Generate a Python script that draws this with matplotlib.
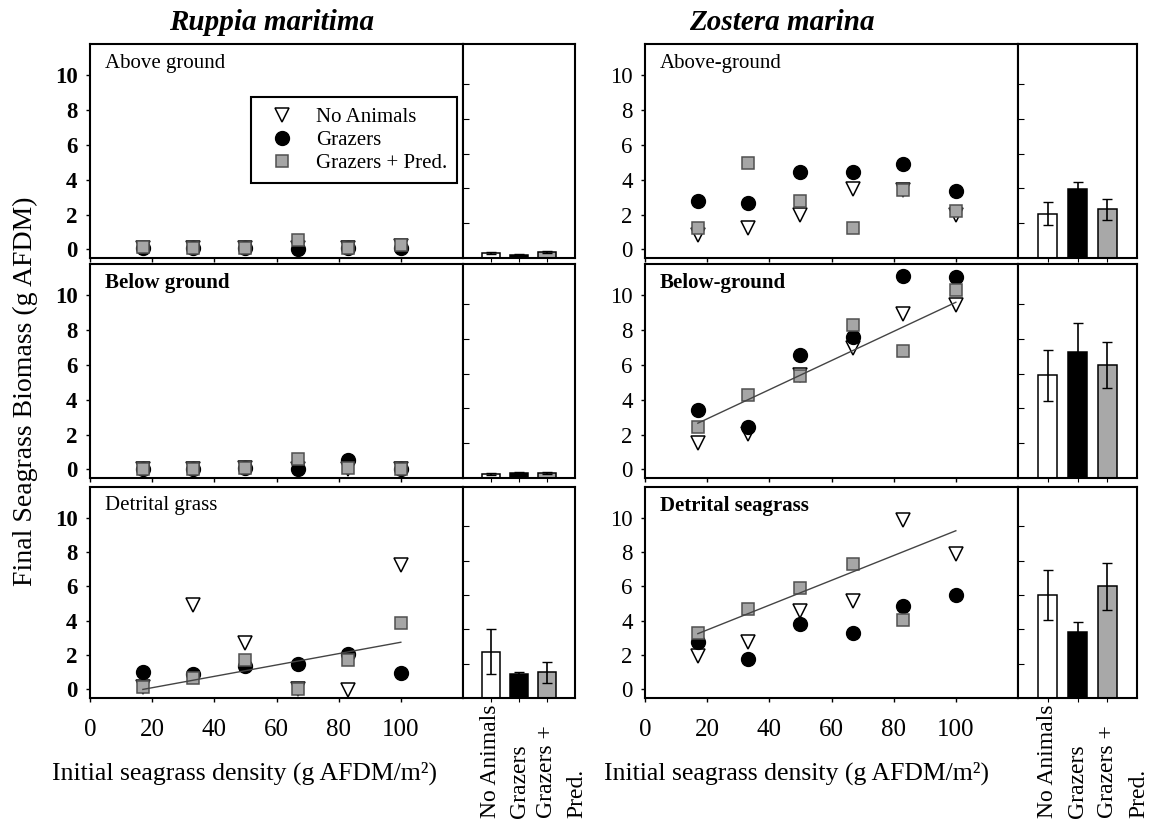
import matplotlib
matplotlib.use('Agg')
import matplotlib.pyplot as plt
import numpy as np

plt.rcParams['font.family'] = ['Liberation Serif', 'DejaVu Serif']

# initial seagrass density (g AFDM/m2)
density = [17, 33, 50, 67, 83, 100]
treatments = ['No Animals', 'Grazers', 'Grazers + Pred.']

# Ruppia maritima, final biomass
rup_above_none = [0.1, 0.05, 0.1, 0.1, 0.1, 0.2]
rup_above_graz = [0.1, 0.05, 0.1, 0.0, 0.1, 0.1]
rup_above_pred = [0.15, 0.05, 0.1, 0.55, 0.1, 0.25]
rup_above_bar = [0.3, 0.2, 0.35]
rup_above_err = [0.05, 0.05, 0.05]

rup_below_none = [0.0, 0.0, 0.05, 0.0, 0.0, 0.0]
rup_below_graz = [0.0, 0.0, 0.05, 0.0, 0.55, 0.0]
rup_below_pred = [0.0, 0.0, 0.05, 0.6, 0.05, 0.0]
rup_below_bar = [0.25, 0.3, 0.3]
rup_below_err = [0.05, 0.05, 0.05]

rup_detr_none = [0.15, 4.9, 2.7, 0.0, -0.05, 7.25]
rup_detr_graz = [1.0, 0.9, 1.35, 1.5, 2.05, 0.95]
rup_detr_pred = [0.15, 0.65, 1.7, 0.0, 1.7, 3.9]
rup_detr_fit = [0.0, 2.75]
rup_detr_bar = [2.7, 1.4, 1.5]
rup_detr_err = [1.3, 0.13, 0.6]

# Zostera marina, final biomass
zos_above_none = [0.85, 1.25, 2.0, 3.45, 3.4, 2.0]
zos_above_graz = [2.8, 2.65, 4.45, 4.45, 4.9, 3.35]
zos_above_pred = [1.25, 4.95, 2.75, 1.25, 3.4, 2.2]
zos_above_bar = [2.55, 3.95, 2.8]
zos_above_err = [0.65, 0.42, 0.6]

zos_below_none = [1.5, 2.05, 5.4, 7.0, 8.9, 9.45]
zos_below_graz = [3.4, 2.45, 6.55, 7.6, 11.1, 11.05]
zos_below_pred = [2.45, 4.25, 5.35, 8.3, 6.8, 10.3]
zos_below_fit = [2.65, 9.6]
zos_below_bar = [5.9, 7.25, 6.5]
zos_below_err = [1.45, 1.65, 1.3]

zos_detr_none = [1.95, 2.75, 4.6, 5.15, 9.85, 7.9]
zos_detr_graz = [2.75, 1.75, 3.8, 3.3, 4.85, 5.5]
zos_detr_pred = [3.3, 4.7, 5.9, 7.3, 4.05, np.nan]
zos_detr_fit = [3.25, 9.25]
zos_detr_bar = [6.0, 3.85, 6.5]
zos_detr_err = [1.45, 0.57, 1.35]

fit_x = [17, 100]

W, H = 1151, 821
rows = [(44, 258), (264, 478), (487, 698)]
cols = [((90, 463), (463, 575)), ((645, 1018), (1018, 1137))]


def rect(x0, x1, y0, y1):
    return [x0 / W, 1 - y1 / H, (x1 - x0) / W, (y1 - y0) / H]


panels = [
    [("Above ground", False, rup_above_none, rup_above_graz, rup_above_pred, None, rup_above_bar, rup_above_err),
     ("Below ground", True, rup_below_none, rup_below_graz, rup_below_pred, None, rup_below_bar, rup_below_err),
     ("Detrital grass", False, rup_detr_none, rup_detr_graz, rup_detr_pred, rup_detr_fit, rup_detr_bar, rup_detr_err)],
    [("Above-ground", False, zos_above_none, zos_above_graz, zos_above_pred, None, zos_above_bar, zos_above_err),
     ("Below-ground", True, zos_below_none, zos_below_graz, zos_below_pred, zos_below_fit, zos_below_bar, zos_below_err),
     ("Detrital seagrass", True, zos_detr_none, zos_detr_graz, zos_detr_pred, zos_detr_fit, zos_detr_bar, zos_detr_err)],
]

bar_colors = ['white', 'black', '#a8a8a8']

fig = plt.figure(figsize=(W / 100, H / 100), dpi=100)

for c, ((sx0, sx1), (bx0, bx1)) in enumerate(cols):
    for r, (y0, y1) in enumerate(rows):
        label, bold, none, graz, pred, fit, bars, errs = panels[c][r]

        ax = fig.add_axes(rect(sx0, sx1, y0, y1))
        ax.plot(density, none, 'v', ms=10, mfc='white', mec='black', mew=1.1, ls='none', label=treatments[0])
        ax.plot(density, graz, 'o', ms=10, mfc='black', mec='black', ls='none', label=treatments[1])
        ax.plot(density, pred, 's', ms=8.5, mfc='#a6a6a6', mec='#505050', mew=1.1, ls='none', label=treatments[2])
        if fit is not None:
            ax.plot(fit_x, fit, color='#444444', lw=1.0)
        ax.set_xlim(0, 120)
        ax.set_ylim(-0.5, 11.8)
        ax.set_xticks(range(0, 101, 20))
        ax.set_yticks(range(0, 11, 2))
        ax.tick_params(axis='y', direction='out', length=3, width=1, pad=6,
                       labelsize=16.5)
        ax.tick_params(axis='x', direction='out', length=3, width=1, pad=12,
                       labelsize=18)
        ax.tick_params(axis='x', labelbottom=(r == 2))
        if c == 0:
            for t in ax.get_yticklabels():
                t.set_fontweight('bold')
        for s in ax.spines.values():
            s.set_linewidth(1.5)
        ax.text(0.04, 0.91, label, transform=ax.transAxes, fontsize=15,
                fontweight='bold' if bold else 'normal', va='center', ha='left')
        if c == 0 and r == 0:
            leg = ax.legend(loc='upper right', bbox_to_anchor=(0.985, 0.75), fontsize=15,
                            frameon=True, fancybox=False, edgecolor='black', framealpha=1,
                            handletextpad=0.6, borderpad=0.5, labelspacing=0.15,
                            borderaxespad=0)
            leg.get_frame().set_linewidth(1.5)

        bx = fig.add_axes(rect(bx0, bx1, y0, y1))
        pos = [1, 2, 3]
        bx.bar(pos, bars, width=0.64, color=bar_colors, edgecolor='black', lw=1.1)
        bx.errorbar(pos, bars, yerr=errs, fmt='none', ecolor='black', elinewidth=1.2, capsize=3.5)
        bx.set_xlim(0, 4)
        bx.set_ylim(0, 12.3)
        bx.set_xticks(pos)
        bx.set_yticks(range(2, 11, 2))
        bx.tick_params(axis='y', direction='in', length=4, labelleft=False)
        bx.tick_params(axis='x', direction='out', length=3, labelbottom=False)
        for s in bx.spines.values():
            s.set_linewidth(1.5)
        if r == 2:
            trans = bx.get_xaxis_transform()
            for p, name in zip(pos, ['No Animals', 'Grazers', 'Grazers +']):
                bx.text(p, -0.57, name, transform=trans, rotation=90,
                        ha='center', va='bottom', fontsize=17)
            bx.text(pos[2] + 1.05, -0.57, 'Pred.', transform=trans, rotation=90,
                    ha='center', va='bottom', fontsize=17)

    fig.text([272, 782][c] / W, 1 - 22 / H, ['Ruppia maritima', 'Zostera marina'][c],
             fontsize=21, fontweight='bold', fontstyle='italic', ha='center', va='center')
    fig.text([245, 797][c] / W, 1 - 773 / H, 'Initial seagrass density (g AFDM/m²)',
             fontsize=18.5, ha='center', va='center')

fig.text(25 / W, 1 - 391 / H, 'Final Seagrass Biomass (g AFDM)', rotation=90,
         fontsize=20, ha='center', va='center')

fig.savefig('out.png', dpi=100)
